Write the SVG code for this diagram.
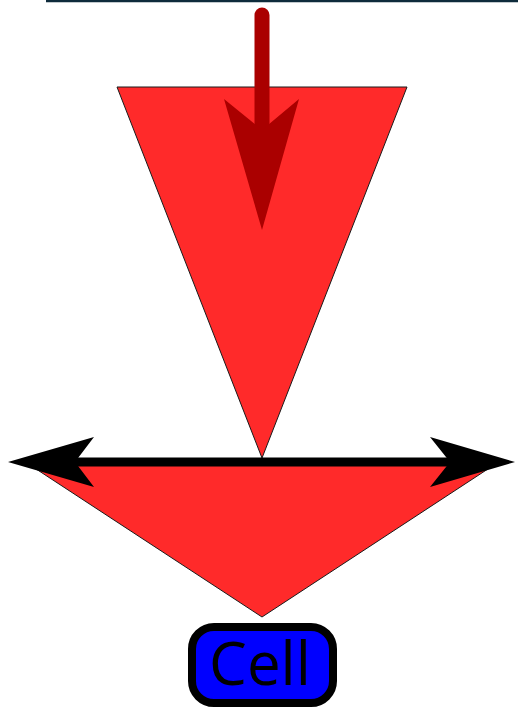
<svg xmlns="http://www.w3.org/2000/svg" width="518" height="709" viewBox="0 0 518 709">
<style>
.tri{fill:#ff2a2a;stroke:#1a1a1a;stroke-width:1;stroke-linejoin:miter}
.lbl{font-family:"Open Sans","DejaVu Sans",sans-serif;font-size:60px;fill:#000;text-anchor:middle}
</style>
<rect x="0" y="0" width="518" height="709" fill="#ffffff"/>
<line x1="46" y1="1" x2="518" y2="1" stroke="#0e2b3b" stroke-width="2.5"/>
<g id="funnel">
<polygon class="tri" points="117,87 407,87 262,458"/>
<polygon class="tri" points="30,465 494,465 262,617"/>
</g>
<g id="connectors">
<line x1="262" y1="15" x2="262" y2="125" stroke="#aa0000" stroke-width="15" stroke-linecap="round"/>
<polygon points="224,99 262,130 299,99 262,230" fill="#aa0000"/>
<line x1="60" y1="462" x2="465" y2="462" stroke="#000" stroke-width="9"/>
<polygon points="8,462 94,437 75,462 94,487" fill="#000"/>
<polygon points="515,462 430,437 450,462 430,487" fill="#000"/>
</g>
<g id="cell">
<rect x="192" y="627" width="141" height="76" rx="22" ry="22" fill="#0000ff" stroke="#000" stroke-width="8"/>
<text class="lbl" x="260" y="685">Cell</text>
</g>
</svg>
